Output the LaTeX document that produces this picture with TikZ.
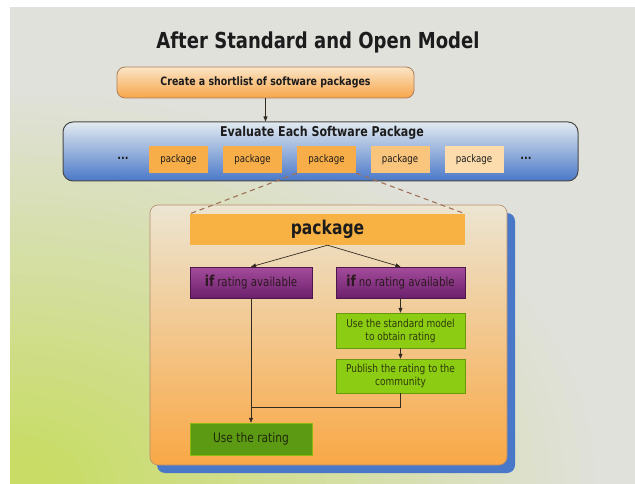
\documentclass[tikz,border=0pt]{standalone}
\usepackage{fontspec}
\setmainfont[FakeStretch=0.82]{DejaVu Sans}
\usetikzlibrary{arrows.meta}

\definecolor{bggrey}{HTML}{E0E1DB}
\definecolor{bggreen}{HTML}{C8DC66}
\definecolor{ink}{HTML}{1C1C1C}
\definecolor{boxline}{HTML}{AC7E5C}
\definecolor{orangetop}{HTML}{FBE5C6}
\definecolor{orangebot}{HTML}{F7A54A}
\definecolor{creamtop}{HTML}{ECE5D2}
\definecolor{creambot}{HTML}{F9A846}
\definecolor{pkgA}{HTML}{F8AE48}
\definecolor{pkgB}{HTML}{F9C47C}
\definecolor{pkgC}{HTML}{FCDCAC}
\definecolor{bluetop}{HTML}{E2EAF0}
\definecolor{blueshadow}{HTML}{4A78C8}
\definecolor{purpletop}{HTML}{A44C9C}
\definecolor{purplebot}{HTML}{6C206C}
\definecolor{lightgreen}{HTML}{8CCC12}
\definecolor{darkgreen}{HTML}{5C9A14}
\definecolor{greenink}{HTML}{2E3A0C}
\definecolor{dashline}{HTML}{A07058}

\begin{document}
\begin{tikzpicture}[x=1pt, y=-1pt, every node/.style={font=\fontsize{11}{13}\selectfont, text=ink},
  arr/.style={-{Triangle[length=5pt,width=4pt]}, color=ink!85!brown, line width=0.7pt},
  pkg/.style={minimum width=59pt, minimum height=27pt, inner sep=0pt, font=\fontsize{10.5}{12}\selectfont},
  cond/.style={minimum height=31pt, inner sep=0pt, top color=purpletop, bottom color=purplebot,
    draw=purplebot!70!black, line width=0.4pt, text=ink!90!purple},
  stepbox/.style={minimum width=129pt, inner sep=0pt, fill=lightgreen, draw=lightgreen!75!black,
    line width=0.4pt, align=center, text=greenink, font=\fontsize{11}{13}\selectfont}]
  % background, green glow in the lower left corner
  \useasboundingbox (0,0) rectangle (635,484);
  \begin{scope}
    \clip (10,7) rectangle (635,484);
    \fill[bggrey] (10,7) rectangle (635,484);
    \foreach \i in {40,39,...,1} {
      \pgfmathsetmacro\g{min(100,110-2.75*\i)}
      \fill[bggreen!\g!bggrey] (10,484) ellipse ({15*\i} and {10*\i});
    }
  \end{scope}

  \node[font=\bfseries\fontsize{22}{26}\selectfont] (title) at (318,42) {After Standard and Open Model};

  \node[rounded corners=8pt, minimum width=297pt, minimum height=31pt, inner sep=0pt,
    top color=orangetop, bottom color=orangebot, draw=boxline, line width=0.8pt,
    font=\bfseries\fontsize{11.5}{13}\selectfont] (create) at (265.5,82.5) {Create a shortlist of software packages};

  \node[rounded corners=10pt, minimum width=515pt, minimum height=59pt, inner sep=0pt,
    top color=bluetop, bottom color=blueshadow, draw=ink!80, line width=1pt] (eval) at (320.5,151.5) {};
  \node[font=\bfseries\fontsize{13.5}{15}\selectfont] (evaltitle) at (322,132.5) {Evaluate Each Software Package};
  \draw[arr] (create) -- (create |- eval.north);

  % row of packages
  \node[pkg, fill=pkgA] (p1) at (178.5,159.5) {package};
  \node[pkg, fill=pkgA] (p2) at (252.5,159.5) {package};
  \node[pkg, fill=pkgA] (p3) at (326.5,159.5) {package};
  \node[pkg, fill=pkgB] (p4) at (400,159.5) {package};
  \node[pkg, fill=pkgC] (p5) at (474,159.5) {package};
  \node[font=\bfseries\fontsize{12}{12}\selectfont] (dl) at (123,158) {...};
  \node[font=\bfseries\fontsize{12}{12}\selectfont] (dr) at (526,158) {...};

  % one package in detail
  \fill[blueshadow, rounded corners=8pt] (157,213) rectangle (515,473);
  \node[rounded corners=8pt, minimum width=357pt, minimum height=260pt, inner sep=0pt,
    top color=creamtop, bottom color=creambot, draw=boxline!90, line width=0.6pt] (detail) at (328.5,335) {};
  \node[minimum width=275pt, minimum height=31pt, inner sep=0pt, fill=pkgA!95!yellow,
    font=\bfseries\fontsize{19}{22}\selectfont] (bar) at (327.5,229.5) {package};
  \draw[dashline, dash pattern=on 5pt off 4pt, line width=1.1pt] (p3.south west) -- (bar.north west);
  \draw[dashline, dash pattern=on 5pt off 4pt, line width=1.1pt] (p3.south east) -- (bar.north east);

  \node[cond, minimum width=122pt] (rated) at (251,282.5)
    {{\bfseries\fontsize{15}{15}\selectfont if} {\fontsize{12.5}{14}\selectfont rating available}};
  \node[cond, minimum width=129pt] (unrated) at (400.5,282.5)
    {{\bfseries\fontsize{15}{15}\selectfont if} {\fontsize{12.5}{14}\selectfont no rating available}};
  \draw[arr] (bar.south) -- (rated.north);
  \draw[arr] (bar.south) -- (unrated.north);

  \node[stepbox, minimum height=35pt] (model) at (400.5,330.5) {Use the standard model\\to obtain rating};
  \node[stepbox, minimum height=34pt] (publish) at (400.5,376) {Publish the rating to the\\community};
  \draw[arr] (unrated) -- (model);
  \draw[arr] (model) -- (publish);

  \node[minimum width=122pt, minimum height=32pt, inner sep=0pt, fill=darkgreen, draw=darkgreen!70!yellow,
    line width=0.5pt, text=greenink!70!black, font=\fontsize{13}{15}\selectfont] (use) at (251,439) {Use the rating};
  \coordinate (join) at (251,407);
  \draw[arr] (rated) -- (use);
  \draw[color=ink!85!brown, line width=0.7pt] (publish.south) |- (join);
\end{tikzpicture}
\end{document}
